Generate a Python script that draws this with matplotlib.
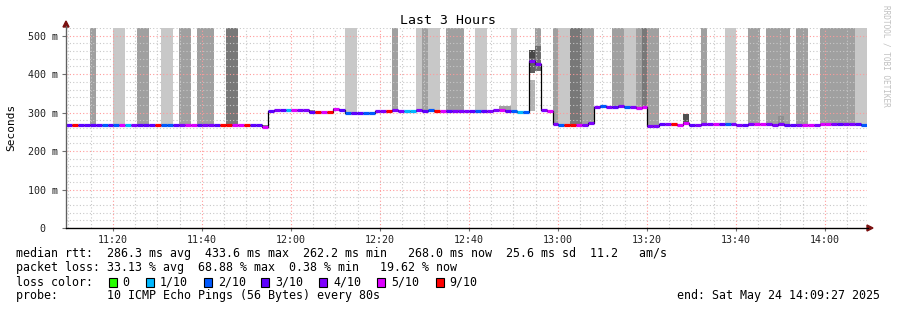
import matplotlib
matplotlib.use('Agg')
import matplotlib.pyplot as plt
from matplotlib.patches import Rectangle, Polygon
from matplotlib.ticker import MultipleLocator, FuncFormatter

W, H = 897, 310
MONO = 'DejaVu Sans Mono'

# time axis in minutes since midnight, one sample every 80 s
start = 11 * 60 + 9 + 27 / 60.0
step = 80 / 60.0

median_ms = [
    268, 268, 269, 269, 268, 269, 269, 268, 268, 268,
    268, 268, 268, 268, 268, 267, 269, 268, 268, 268,
    268, 268, 268, 268, 268, 267, 269, 268, 268, 268,
    268, 268, 267, 262, 305, 307, 306, 306, 306, 306,
    306, 301, 301, 302, 301, 310, 307, 300, 300, 300,
    300, 300, 303, 304, 305, 308, 305, 305, 305, 308,
    304, 306, 305, 304, 303, 304, 304, 304, 303, 303,
    304, 304, 306, 306, 304, 303, 301, 302, 433, 427,
    306, 303, 270, 268, 268, 268, 268, 269, 273, 314,
    316, 314, 315, 316, 314, 315, 313, 314, 264, 264,
    270, 270, 270, 267, 272, 269, 269, 270, 270, 270,
    270, 270, 270, 269, 269, 270, 271, 271, 271, 269,
    271, 268, 269, 269, 268, 268, 269, 270, 271, 271,
    270, 271, 270, 271, 268,
]

# loss class per sample (tenths of pings lost)
loss = [
    3, 9, 3, 3, 3, 3, 2, 3, 2, 5,
    1, 4, 3, 3, 3, 9, 2, 2, 3, 4,
    5, 5, 3, 4, 4, 3, 9, 9, 5, 5,
    9, 3, 3, 5, 3, 4, 3, 1, 5, 4,
    4, 3, 9, 5, 9, 5, 3, 2, 3, 3,
    2, 2, 4, 4, 9, 4, 4, 1, 1, 4,
    3, 2, 9, 5, 3, 4, 4, 4, 3, 2,
    3, 4, 4, 5, 3, 2, 1, 2, 4, 4,
    4, 5, 4, 2, 9, 9, 5, 4, 4, 4,
    2, 4, 3, 4, 2, 4, 5, 5, 4, 4,
    3, 4, 9, 5, 5, 3, 4, 4, 4, 5,
    3, 2, 4, 4, 3, 4, 5, 5, 4, 4,
    4, 3, 3, 4, 5, 5, 4, 5, 5, 4,
    3, 4, 4, 3, 2,
]

# smoke reaching past the top of the graph: 0 none, 1 light, 2 mid, 3 dark
bars = [
    0, 0, 0, 0, 2, 0, 0, 0, 1, 1,
    0, 0, 2, 2, 0, 0, 1, 1, 0, 2,
    2, 0, 2, 2, 2, 0, 0, 3, 3, 0,
    0, 0, 0, 0, 0, 0, 0, 0, 0, 0,
    0, 0, 0, 0, 0, 0, 0, 1, 1, 0,
    0, 0, 0, 0, 0, 2, 0, 0, 0, 1,
    2, 1, 1, 0, 2, 2, 2, 0, 0, 1,
    1, 0, 0, 0, 0, 1, 0, 0, 0, 2,
    0, 0, 2, 1, 1, 3, 3, 2, 2, 0,
    0, 0, 2, 2, 1, 1, 2, 3, 2, 2,
    0, 0, 0, 0, 0, 0, 0, 2, 0, 0,
    0, 1, 1, 0, 0, 2, 2, 0, 2, 2,
    2, 2, 0, 2, 2, 0, 0, 2, 2, 2,
    2, 2, 2, 1, 1,
]

# smaller smoke patches (sample, low ms, high ms, grey)
smoke_idx = [33, 41, 45, 46, 73, 74, 78, 78, 78, 79, 104, 105, 120]
smoke_lo = [262, 301, 306, 305, 304, 304, 303, 403, 442, 407, 272, 265, 271]
smoke_hi = [268, 306, 313, 310, 318, 318, 385, 442, 463, 472, 296, 269, 290]
smoke_grey = ['#808080', '#808080', '#909090', '#909090', '#a0a0a0', '#a0a0a0',
              '#b4b4b4', '#606060', '#484848', '#6e6e6e', '#505050', '#a8a8a8', '#909090']

loss_colors = {0: '#26ff00', 1: '#00b8ff', 2: '#0059ff', 3: '#5e00ff',
               4: '#7e00ff', 5: '#dd00ff', 9: '#ff0000'}
bar_colors = {1: '#c8c8c8', 2: '#a0a0a0', 3: '#787878'}

legend_labels = ['0', '1/10', '2/10', '3/10', '4/10', '5/10', '9/10']
legend_codes = [0, 1, 2, 3, 4, 5, 9]

ymax = 0.52
n = len(median_ms)
t = [start + i * step for i in range(n)]
med = [m / 1000.0 for m in median_ms]

fig = plt.figure(figsize=(W / 100, H / 100), dpi=100)
fig.patch.set_facecolor('white')
ax = fig.add_axes([66 / W, (H - 228) / H, 801 / W, 200 / H])
ax.set_xlim(start, start + n * step)
ax.set_ylim(0, ymax)

# big smoke bars
for i in range(n):
    if bars[i]:
        ax.bar(t[i], ymax - med[i], bottom=med[i], width=step, align='edge',
               color=bar_colors[bars[i]], linewidth=0, zorder=1)

for k in range(len(smoke_idx)):
    i = smoke_idx[k]
    ax.bar(t[i], (smoke_hi[k] - smoke_lo[k]) / 1000.0, bottom=smoke_lo[k] / 1000.0,
           width=step, align='edge', color=smoke_grey[k], linewidth=0, zorder=1.5)

# grid
ax.xaxis.set_major_locator(MultipleLocator(20))
ax.xaxis.set_minor_locator(MultipleLocator(5))
ax.yaxis.set_major_locator(MultipleLocator(0.1))
ax.yaxis.set_minor_locator(MultipleLocator(0.02))
ax.grid(which='minor', color='#c8c8c8', linestyle=(0, (1, 2)), linewidth=0.8, zorder=2)
ax.grid(which='major', color='#ff9a9a', linestyle=(0, (1, 2)), linewidth=0.8, zorder=2)
ax.set_axisbelow(False)

# median line: black connectors, coloured by loss
edges = t + [t[-1] + step]
ax.step(edges, med + [med[-1]], where='post', color='black', linewidth=0.9, zorder=3)
for i in range(n):
    ax.hlines(med[i], t[i], t[i] + step, colors=loss_colors[loss[i]],
              linewidth=2.3, zorder=4)

ax.xaxis.set_major_formatter(FuncFormatter(
    lambda v, p: '%02d:%02d' % (int(round(v)) // 60, int(round(v)) % 60)))
ax.yaxis.set_major_formatter(FuncFormatter(
    lambda v, p: '0  ' if abs(v) < 1e-9 else '%d m' % round(v * 1000)))
for lab in ax.get_xticklabels() + ax.get_yticklabels():
    lab.set_fontfamily(MONO)
ax.tick_params(axis='both', which='major', labelsize=7.2, length=3, color='#707070',
               pad=3, labelcolor='#202020')
ax.tick_params(axis='both', which='minor', length=0)
ax.tick_params(axis='x', length=2)

for s in ['top', 'right']:
    ax.spines[s].set_visible(False)
ax.spines['left'].set_color('#606060')
ax.spines['bottom'].set_color('black')
ax.spines['left'].set_zorder(5)
ax.spines['bottom'].set_zorder(5)

# axis arrows
fx = lambda x: x / W
fy = lambda y: 1 - y / H
fig.add_artist(Polygon([(fx(63), fy(27)), (fx(69), fy(27)), (fx(66), fy(21))],
                       closed=True, color='#7a1010', transform=fig.transFigure))
fig.add_artist(plt.Line2D([fx(66), fx(66)], [fy(228), fy(26)], color='#606060',
                          linewidth=0.9, transform=fig.transFigure))
fig.add_artist(Polygon([(fx(867), fy(225)), (fx(867), fy(231)), (fx(873), fy(228))],
                       closed=True, color='#7a1010', transform=fig.transFigure))
fig.add_artist(plt.Line2D([fx(66), fx(868)], [fy(228), fy(228)], color='black',
                          linewidth=0.9, transform=fig.transFigure))

fig.text(fx(448), fy(20), 'Last 3 Hours', family=MONO, fontsize=9.5,
         ha='center', va='center', color='black')
fig.text(fx(11), fy(127), 'Seconds', family=MONO, fontsize=8, rotation=90,
         ha='center', va='center', color='black')
fig.text(fx(886), fy(5), 'RRDTOOL / TOBI OETIKER', family=MONO, fontsize=5.6,
         rotation=270, ha='center', va='top', color='#c0c0c0')

# legend block
fs = 8.4
fig.text(fx(16), fy(254), 'median rtt:  286.3 ms avg  433.6 ms max  262.2 ms min   '
         '268.0 ms now  25.6 ms sd  11.2   am/s', family=MONO, fontsize=fs,
         ha='left', va='center')
fig.text(fx(16), fy(268), 'packet loss: 33.13 % avg  68.88 % max  0.38 % min   '
         '19.62 % now', family=MONO, fontsize=fs, ha='left', va='center')
fig.text(fx(16), fy(282), 'loss color:', family=MONO, fontsize=fs,
         ha='left', va='center')
box_x = [108.5, 146, 204, 261, 319, 377, 435.5]
for bx, code, lab in zip(box_x, legend_codes, legend_labels):
    fig.add_artist(Rectangle((fx(bx), fy(286.5)), 8 / W, 9 / H, facecolor=loss_colors[code],
                             edgecolor='black', linewidth=0.8, transform=fig.transFigure))
    fig.text(fx(bx + 14), fy(282), lab, family=MONO, fontsize=fs,
             ha='left', va='center')
fig.text(fx(16), fy(296), 'probe:       10 ICMP Echo Pings (56 Bytes) every 80s',
         family=MONO, fontsize=fs, ha='left', va='center')
fig.text(fx(880), fy(296), 'end: Sat May 24 14:09:27 2025', family=MONO, fontsize=fs,
         ha='right', va='center')

fig.savefig('out.png', dpi=100, facecolor='white')
